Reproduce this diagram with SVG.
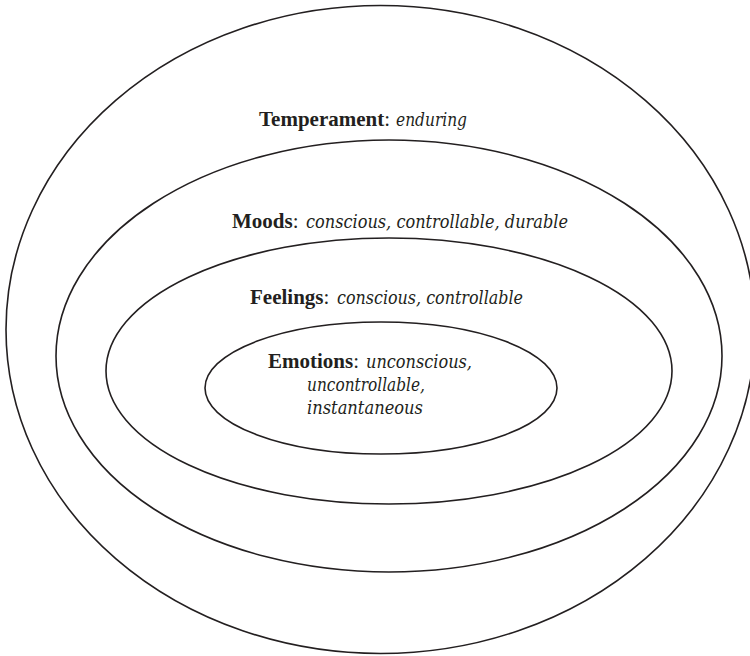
<svg xmlns="http://www.w3.org/2000/svg" width="750" height="656" viewBox="0 0 750 656">
  <style>
    .ring { fill: none; stroke: #231f20; stroke-width: 1.6; }
    .label { font-family: "Liberation Serif", serif; font-size: 21px; fill: #231f20; }
    .term { font-weight: bold; }
    .desc { font-family: "DejaVu Serif", serif; font-style: italic; font-size: 18px; fill: #231f20; }
  </style>
  <rect width="750" height="656" fill="#ffffff"/>

  <!-- outermost layer -->
  <g id="temperament">
    <ellipse class="ring" cx="380.5" cy="329.5" rx="374.5" ry="324"/>
    <text class="label" x="259" y="126"><tspan class="term">Temperament</tspan>:</text>
    <text class="desc" x="396" y="126" textLength="71" lengthAdjust="spacingAndGlyphs">enduring</text>
  </g>

  <g id="moods">
    <ellipse class="ring" cx="389" cy="356" rx="333" ry="216"/>
    <text class="label" x="232" y="228"><tspan class="term">Moods</tspan>:</text>
    <text class="desc" x="306" y="228" textLength="262" lengthAdjust="spacingAndGlyphs">conscious, controllable, durable</text>
  </g>

  <g id="feelings">
    <ellipse class="ring" cx="389" cy="371" rx="283" ry="133"/>
    <text class="label" x="250" y="304"><tspan class="term">Feelings</tspan>:</text>
    <text class="desc" x="337" y="304" textLength="186" lengthAdjust="spacingAndGlyphs">conscious, controllable</text>
  </g>

  <!-- innermost layer -->
  <g id="emotions">
    <ellipse class="ring" cx="381" cy="388" rx="176" ry="66"/>
    <text class="label" x="268" y="368"><tspan class="term">Emotions</tspan>:</text>
    <text class="desc" x="366" y="368" textLength="106" lengthAdjust="spacingAndGlyphs">unconscious,</text>
    <text class="desc" x="307" y="391" textLength="118" lengthAdjust="spacingAndGlyphs">uncontrollable,</text>
    <text class="desc" x="307" y="414" textLength="116" lengthAdjust="spacingAndGlyphs">instantaneous</text>
  </g>
</svg>
